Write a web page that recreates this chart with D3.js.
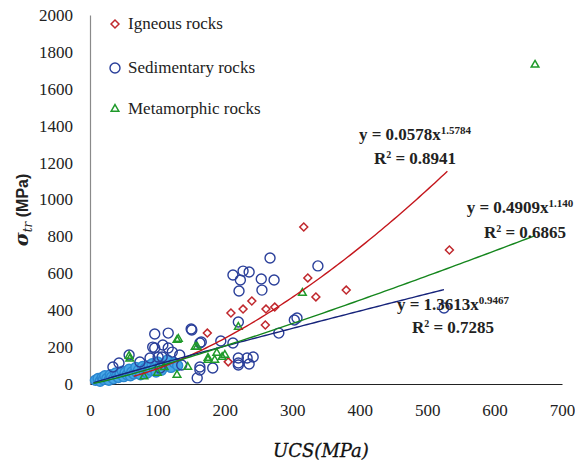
<!DOCTYPE html>
<html><head><meta charset="utf-8">
<script src="https://cdn.jsdelivr.net/npm/d3@7"></script>
<style>body{margin:0;background:#fff}svg{display:block}</style>
</head><body><svg id="c" width="575" height="461"></svg>
<script>
// ---- data ----
const xTicks = [0,100,200,300,400,500,600,700];
const yTicks = [0,200,400,600,800,1000,1200,1400,1600,1800,2000];
const seriesNames = ["Igneous rocks","Sedimentary rocks","Metamorphic rocks"];
const igneous = [[174,276],[205,120],[209,385],[227,406],[240,450],[260,320],[261,406],[274,417],[317,851],[323,575],[335,472],[380,509],[533,726]];
const sedimentary = [[267,683],[212,591],[227,612],[236,607],[223,564],[221,504],[254,569],[255,509],[273,564],[338,640],[220,336],[151,293],[165,228],[194,233],[212,222],[280,276],[303,347],[307,358],[220,141],[220,114],[236,108],[242,146],[233,141],[220,103],[163,76],[182,87],[525,412],[96,271],[150,298],[96,195],[116,195],[58,157],[43,114],[34,92],[74,119],[107,146],[133,157],[163,222],[163,92],[104,87],[116,276],[93,200],[108,211],[122,173],[89,141],[101,146],[136,103],[159,33]];
const sedimentaryDense = [[8,20],[12,30],[15,15],[18,35],[20,25],[22,45],[25,30],[28,20],[30,50],[32,38],[35,28],[38,60],[40,45],[42,35],[45,55],[48,70],[50,40],[52,62],[55,50],[58,80],[60,45],[62,65],[65,55],[68,90],[70,60],[72,75],[75,50],[78,95],[80,70],[82,85],[85,60],[88,100],[90,75],[92,110],[95,85],[98,65],[100,120],[103,95],[106,75],[110,105],[115,130],[120,90],[125,115],[130,100]];
const metamorphic = [[660,1730],[315,493],[220,309],[156,200],[196,146],[175,130],[185,130],[58,152],[129,238],[159,201],[131,244],[145,92],[175,141],[129,49],[59,136],[100,60],[80,40],[110,90],[188,168],[200,157]];
// power-law fits y = a x^b and their plotted x-ranges
const fitA = [0.0578, 1.3613, 0.4909];
const fitB = [1.5784, 0.9467, 1.140];
const fitR2 = ["0.8941","0.7285","0.6865"];
const fitXmin = [65, 5, 5];
const fitXmax = [530, 525, 660];
const fitExpLabel = ["1.5784","0.9467","1.140"];
const fitCoefLabel = ["0.0578","1.3613","0.4909"];

// ---- drawing ----
const svg = d3.select("#c");
const x = d3.scaleLinear().domain([0,700]).range([90,562]);
const y = d3.scaleLinear().domain([0,2000]).range([384,15]);
const colors = ["#c0282d","#2a3f9a","#1f9a2a"];
const lineColors = ["#c4161c","#16237a","#15861d"];
const serif = "Liberation Serif, Times New Roman, serif";

// axes
const yAxis = d3.axisLeft(y).tickValues(yTicks).tickFormat(d3.format("d")).tickSize(0).tickPadding(17);
const gy = svg.append("g").attr("transform","translate(90,0)").call(yAxis);
gy.attr("font-family",null).attr("font-size",null);
gy.select(".domain").attr("stroke","#8a8a8a").attr("stroke-width",1.2);
gy.selectAll("text").style("font-family",serif).style("font-size","17px").attr("fill","#222");
const xAxis = d3.axisBottom(x).tickValues(xTicks).tickFormat(d3.format("d")).tickSize(0).tickPadding(20);
const gx = svg.append("g").attr("transform","translate(0,384)").call(xAxis);
gx.attr("font-family",null).attr("font-size",null);
gx.select(".domain").attr("stroke","#222").attr("stroke-width",1.2);
gx.selectAll("text").style("font-family",serif).style("font-size","17px").attr("fill","#222");

const plot = svg.append("g");
function diamond(g, data, col){
  g.selectAll(null).data(data).enter().append("path")
   .attr("d", d3.symbol(d3.symbolDiamond2, 40)())
   .attr("transform", d=>`translate(${x(d[0])},${y(d[1])})`)
   .attr("fill","none").attr("stroke",col).attr("stroke-width",1.5);
}
function circles(g, data, col, fill){
  g.selectAll(null).data(data).enter().append("circle")
   .attr("cx",d=>x(d[0])).attr("cy",d=>y(d[1])).attr("r",5)
   .attr("fill",fill||"none").attr("stroke",col).attr("stroke-width",1.4);
}
function tris(g, data, col){
  g.selectAll(null).data(data).enter().append("path")
   .attr("d", d3.symbol(d3.symbolTriangle2, 42)())
   .attr("transform", d=>`translate(${x(d[0])},${y(d[1])})`)
   .attr("fill","none").attr("stroke",col).attr("stroke-width",1.5);
}
diamond(plot, igneous, colors[0]);
circles(plot, sedimentaryDense, "#2a86d0", "#48a8e6");
circles(plot, sedimentary, colors[1]);
tris(plot, metamorphic, colors[2]);

// trend lines
const line = d3.line().x(d=>x(d[0])).y(d=>y(d[1]));
for (let i=0;i<3;i++){
  const pts = d3.range(0,101).map(k=>{
    const xv = fitXmin[i] + (fitXmax[i]-fitXmin[i])*k/100;
    return [xv, fitA[i]*Math.pow(xv, fitB[i])];
  });
  plot.append("path").datum(pts).attr("d",line).attr("fill","none")
    .attr("stroke",lineColors[i]).attr("stroke-width",1.4);
}

// equations
const eqPos = [[415,140,415,164],[453,310,453,333],[520,213,525,238]];
for (let i=0;i<3;i++){
  const t = svg.append("text").attr("x",eqPos[i][0]).attr("y",eqPos[i][1])
    .attr("text-anchor","middle").style("font-family",serif).attr("font-weight","bold")
    .attr("font-size",17).attr("fill","#222");
  t.append("tspan").text(`y = ${fitCoefLabel[i]}x`);
  t.append("tspan").attr("dy",-6).attr("font-size",11).text(fitExpLabel[i]);
  const r = svg.append("text").attr("x",eqPos[i][2]).attr("y",eqPos[i][3])
    .attr("text-anchor","middle").style("font-family",serif).attr("font-weight","bold")
    .attr("font-size",17).attr("fill","#222");
  r.append("tspan").text("R");
  r.append("tspan").attr("font-size",10).attr("dy",-6).text("2");
  r.append("tspan").attr("dy",6).text(` = ${fitR2[i]}`);
}

// legend
const lg = svg.append("g");
const legY = [24,68,109];
lg.append("path").attr("d", d3.symbol(d3.symbolDiamond2, 40)()).attr("transform",`translate(115,${legY[0]})`)
  .attr("fill","none").attr("stroke",colors[0]).attr("stroke-width",1.5);
lg.append("circle").attr("cx",115).attr("cy",legY[1]).attr("r",5).attr("fill","none").attr("stroke",colors[1]).attr("stroke-width",1.4);
lg.append("path").attr("d", d3.symbol(d3.symbolTriangle2, 42)()).attr("transform",`translate(115,${legY[2]})`)
  .attr("fill","none").attr("stroke",colors[2]).attr("stroke-width",1.5);
seriesNames.forEach((n,i)=>{
  lg.append("text").attr("x",128).attr("y",legY[i]+5).style("font-family",serif)
    .attr("font-size",17).attr("fill","#222").text(n);
});

// axis titles
const yl = svg.append("text").attr("transform","translate(28,210) rotate(-90)")
  .attr("text-anchor","middle").attr("fill","#222");
yl.append("tspan").style("font-family","DejaVu Serif, serif").attr("font-style","italic").attr("font-weight","bold").attr("font-size",19).text("σ");
yl.append("tspan").style("font-family","DejaVu Serif, serif").attr("font-style","italic").attr("font-size",12).attr("dy",4).text("tr");
yl.append("tspan").style("font-family","Liberation Sans, Arial, sans-serif").attr("font-weight","bold").attr("font-size",16).attr("dy",-4).text(" (MPa)");
svg.append("text").attr("x",321).attr("y",457).attr("text-anchor","middle")
  .style("font-family","DejaVu Serif, serif").attr("font-style","italic").attr("font-size",18)
  .attr("fill","#111").attr("stroke","#111").attr("stroke-width",0.3).text("UCS(MPa)");
</script></body></html>
